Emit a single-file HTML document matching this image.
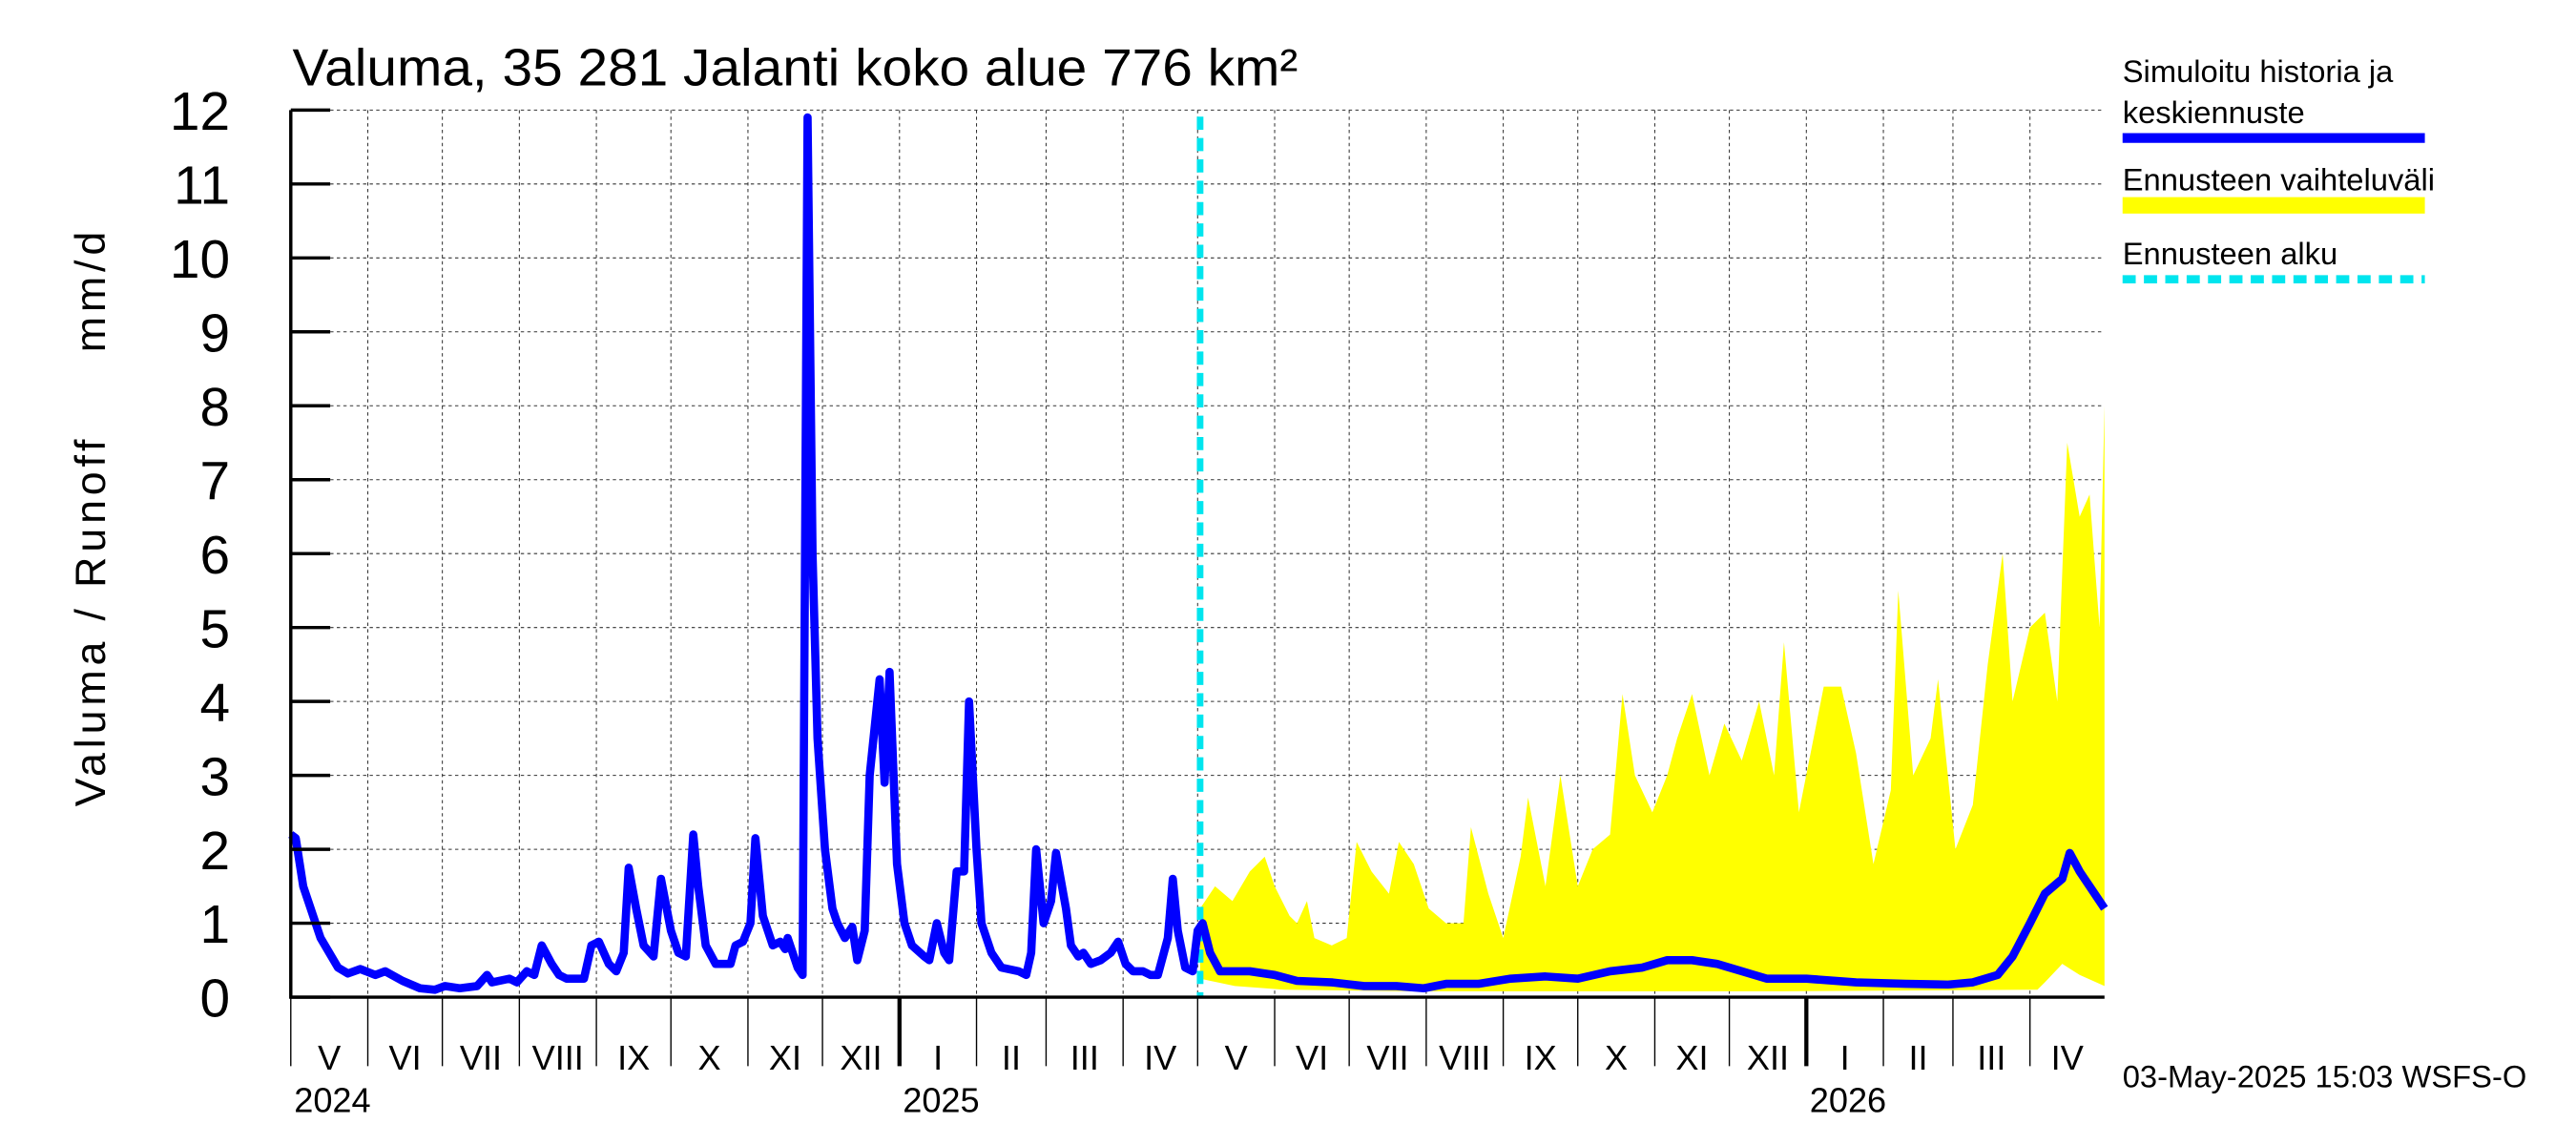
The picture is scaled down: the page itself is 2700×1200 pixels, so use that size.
<!DOCTYPE html>
<html><head><meta charset="utf-8"><style>
html,body{margin:0;padding:0;background:#fff;}
svg{display:block;font-family:"Liberation Sans",Arial,sans-serif;}
</style></head><body>
<svg id="chart" width="2700" height="1200" viewBox="0 0 1568 697" preserveAspectRatio="none" xmlns="http://www.w3.org/2000/svg">
<rect width="1568" height="697" fill="#fff"/>
<text x="178" y="52" font-size="32" textLength="612" lengthAdjust="spacingAndGlyphs">Valuma, 35 281 Jalanti koko alue 776 km²</text>
<text transform="translate(64,316) rotate(-90)" text-anchor="middle" font-size="26" xml:space="preserve" textLength="350">Valuma / Runoff     mm/d</text>
<g id="grid"></g>
<g id="band"></g>
<g id="series"></g>
<g id="axes"></g>
<g>
<text x="1292" y="50" font-size="19">Simuloitu historia ja</text>
<text x="1292" y="75" font-size="19">keskiennuste</text>
<line x1="1292" y1="84" x2="1476" y2="84" stroke="#0000ff" stroke-width="6"/>
<text x="1292" y="116" font-size="19">Ennusteen vaihteluväli</text>
<rect x="1292" y="120" width="184" height="10" fill="#ffff00"/>
<text x="1292" y="161" font-size="19">Ennusteen alku</text>
<line x1="1292" y1="170" x2="1476" y2="170" stroke="#00e5ee" stroke-width="5" stroke-dasharray="8,5"/>
</g>
<text x="1292" y="662" font-size="19">03-May-2025 15:03 WSFS-O</text>
</svg>
<script>
const histDays=[0,2,5,12,19,23,28,34,38,45,52,58,62,68,75,79,81,88,91,95,98,101,105,108,111,118,121,124,128,131,134,136,139,142,146,147,149,153,156,159,162,164,167,171,174,177,179,182,185,187,190,194,197,199,200,204,206,208,210,212,215,218,220,223,226,228,231,233,237,239,241,244,247,250,255,257,260,263,265,268,271,273,276,278,282,286,293,296,298,300,303,306,308,312,314,317,319,322,326,330,333,336,339,343,346,349,353,355,357,360,363,365,367,370,374,376,386,396,405,419,432,445,456,465,478,491,505,518,531,544,554,564,574,584,594,610,630,650,667,677,687,693,700,706,713,716,720,724,730];
const histVals=[2.2,2.15,1.5,0.8,0.4,0.32,0.38,0.3,0.35,0.22,0.12,0.1,0.15,0.12,0.15,0.3,0.2,0.25,0.2,0.35,0.3,0.7,0.45,0.3,0.25,0.25,0.7,0.75,0.45,0.35,0.6,1.75,1.2,0.7,0.55,0.9,1.6,0.9,0.6,0.55,2.2,1.5,0.7,0.45,0.45,0.45,0.7,0.75,1.0,2.15,1.1,0.7,0.75,0.65,0.8,0.4,0.3,11.9,6.0,3.5,2.0,1.2,1.0,0.8,0.95,0.5,0.9,3.0,4.3,2.9,4.4,1.8,1.0,0.7,0.55,0.5,1.0,0.6,0.5,1.7,1.7,4.0,2.0,1.0,0.6,0.4,0.35,0.3,0.6,2.0,1.0,1.3,1.95,1.2,0.7,0.55,0.6,0.45,0.5,0.6,0.75,0.45,0.35,0.35,0.3,0.3,0.8,1.6,0.9,0.4,0.35,0.9,1.0,0.6,0.35,0.35,0.35,0.3,0.22,0.2,0.15,0.15,0.12,0.18,0.18,0.25,0.28,0.25,0.35,0.4,0.5,0.5,0.45,0.35,0.25,0.25,0.2,0.18,0.17,0.2,0.3,0.55,1.0,1.4,1.6,1.95,1.7,1.5,1.2];
const bandDays=[366,372,379,386,389,392,396,402,405,409,412,419,425,429,435,442,446,452,458,465,472,475,482,488,495,498,505,511,518,524,531,536,541,548,554,558,564,571,577,584,591,597,601,607,617,624,630,637,644,647,653,660,663,670,677,683,689,693,700,706,711,715,720,724,728,730];
const bandUpper=[1.2,1.5,1.3,1.7,1.8,1.9,1.5,1.1,1.0,1.3,0.8,0.7,0.8,2.1,1.7,1.4,2.1,1.8,1.2,1.0,1.0,2.3,1.4,0.8,1.9,2.7,1.5,3.0,1.5,2.0,2.2,4.1,3.0,2.5,3.0,3.5,4.1,3.0,3.7,3.2,4.0,3.0,4.8,2.5,4.2,4.2,3.3,1.8,2.8,5.5,3.0,3.5,4.3,2.0,2.6,4.5,6.0,4.0,5.0,5.2,4.0,7.5,6.5,6.8,5.0,8.0];
const lowDays=[366,380,400,450,500,600,700,703,706,713,720,730];
const lowVals=[0.25,0.15,0.1,0.08,0.08,0.08,0.1,0.1,0.2,0.45,0.3,0.15];
const yTicks=[0,1,2,3,4,5,6,7,8,9,10,11,12];
const monthLabels=["V","VI","VII","VIII","IX","X","XI","XII","I","II","III","IV","V","VI","VII","VIII","IX","X","XI","XII","I","II","III","IV"];
const monthLengths=[31,30,31,31,30,31,30,31,31,28,31,30,31,30,31,31,30,31,30,31,31,28,31,30];
const yearLabels=["2024","2025","2026"];
const yearMonthIdx=[0,8,20];
const forecastStartDay=366;

const X0=177,X1=1281,Y0=607,Y1=67,DMAX=730,YMAX=12;
const xs=d=>X0+(d/DMAX)*(X1-X0);
const ys=v=>Y0-(v/YMAX)*(Y0-Y1);
const NS="http://www.w3.org/2000/svg";
function mk(tag,attrs,parent){const e=document.createElementNS(NS,tag);for(const k in attrs)e.setAttribute(k,attrs[k]);parent.appendChild(e);return e;}
const grid=document.getElementById('grid'),axes=document.getElementById('axes'),band=document.getElementById('band'),series=document.getElementById('series');

yTicks.forEach(v=>{
  const g=mk('line',{x1:X0,x2:X1,y1:ys(v),y2:ys(v),stroke:'#333','stroke-width':0.6,'stroke-dasharray':'2,2'},grid);
  
  
  const t=mk('line',{x1:X0,x2:X0+24,y1:ys(v),y2:ys(v),stroke:'#000','stroke-width':2},axes);
  
  
  const l=mk('text',{x:140,y:ys(v)+12,'text-anchor':'end','font-size':33},axes);
  l.textContent=v;
  
  
});
let d=0;const starts=[];
monthLengths.forEach(n=>{starts.push(d);d+=n;});
starts.forEach((s,i)=>{
  const isYear=yearMonthIdx.includes(i);
  if(i>0){
    const g=mk('line',{x1:xs(s),x2:xs(s),y1:Y1,y2:Y0,stroke:'#333','stroke-width':0.6,'stroke-dasharray':'2,2'},grid);
    
    
  }
  const t=mk('line',{x1:xs(s),x2:xs(s),y1:Y0,y2:649,stroke:'#000','stroke-width':isYear&&i>0?2.5:0.8},axes);
  
  
  const l=mk('text',{x:xs(s+monthLengths[i]/2),y:651,'text-anchor':'middle','font-size':21},axes);
  l.textContent=monthLabels[i];
  
  
});
yearMonthIdx.forEach((mi,i)=>{
  const l=mk('text',{x:xs(starts[mi])+2,y:677,'font-size':21},axes);
  l.textContent=yearLabels[i];
  
  
});
let p=bandDays.map((dd,i)=>xs(dd)+','+ys(bandUpper[i]));
for(let i=lowDays.length-1;i>=0;i--)p.push(xs(lowDays[i])+','+ys(lowVals[i]));
const poly=mk('polygon',{points:p.join(' '),fill:'#ffff00'},band);


const fs=mk('line',{x1:xs(forecastStartDay),x2:xs(forecastStartDay),y1:Y1+4,y2:Y0,stroke:'#00e5ee','stroke-width':4,'stroke-dasharray':'8,5'},series);


const hl=mk('polyline',{points:histDays.map((dd,i)=>xs(dd)+','+ys(histVals[i])).join(' '),fill:'none',stroke:'#0000ff','stroke-width':5,'stroke-linejoin':'round'},series);


const ax=mk('polyline',{points:`${X0},${Y1} ${X0},${Y0} ${X1},${Y0}`,fill:'none',stroke:'#000','stroke-width':2},axes);


</script>
</body></html>
